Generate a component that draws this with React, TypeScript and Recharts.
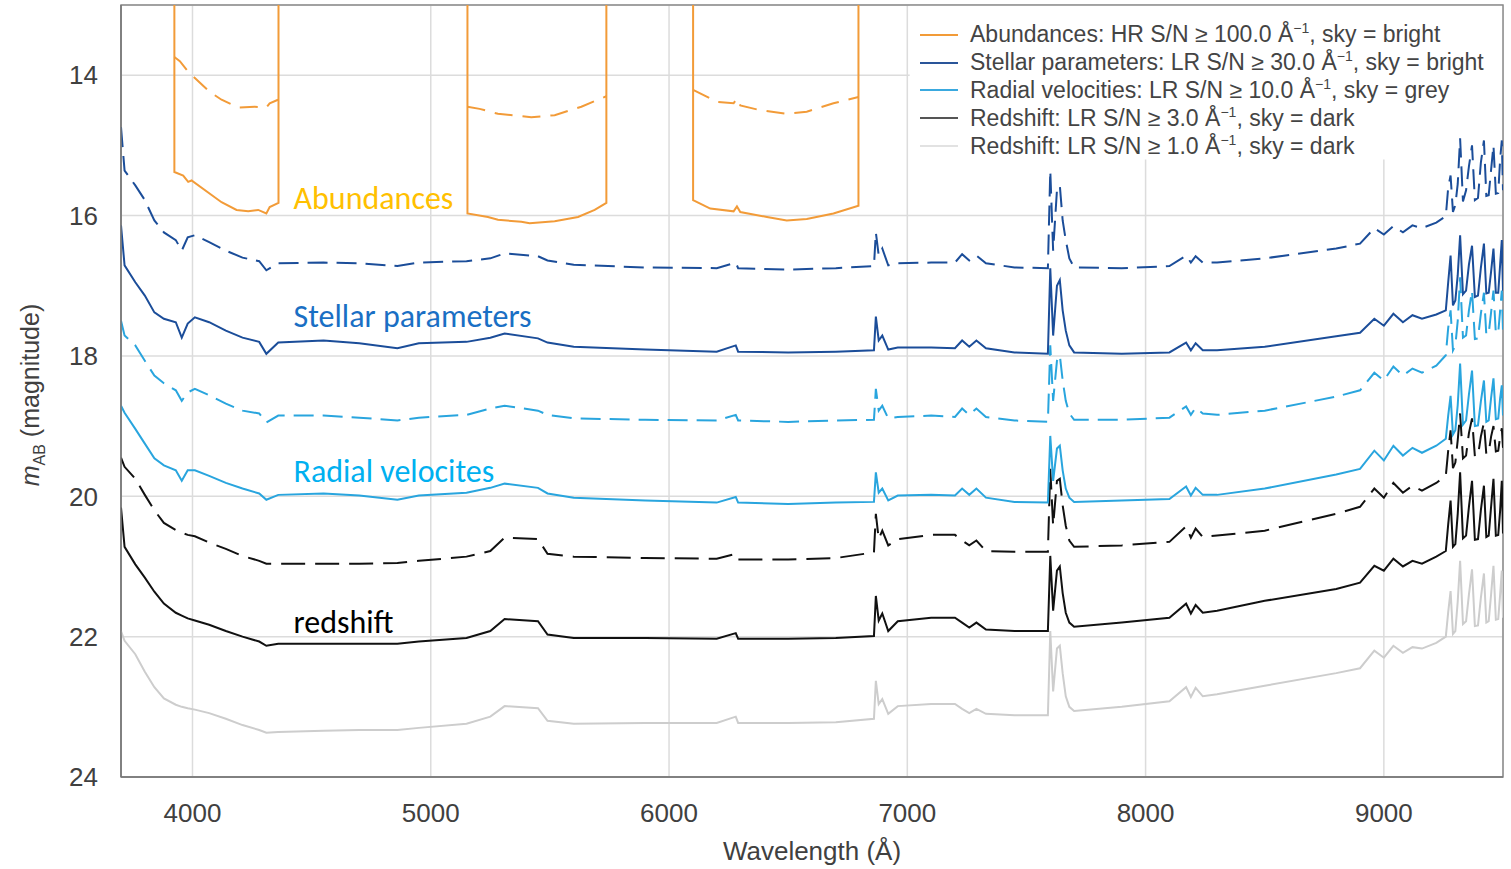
import {
  CartesianGrid,
  Label,
  Legend,
  Line,
  LineChart,
  ReferenceArea,
  ReferenceDot,
  XAxis,
  YAxis,
} from "recharts";

const FONT = "'Liberation Sans', Arial, Helvetica, sans-serif";
const NOTE_FONT = "Carlito, 'Open Sans', sans-serif";

const X_TICKS = [4000, 5000, 6000, 7000, 8000, 9000];
const Y_TICKS = [14, 16, 18, 20, 22, 24];

// shared wavelength grid (Å) for the LR curves
const WAVE = [
  3700, 3715, 3760, 3800, 3840, 3880, 3930, 3955, 3980, 4010, 4070, 4140, 4210, 4280, 4310, 4360,
  4550, 4700, 4860, 4950, 5150, 5250, 5310, 5450, 5490, 5600, 5900, 6200, 6280, 6290, 6500, 6700,
  6860, 6868, 6880, 6895, 6920, 6960, 7100, 7200, 7230, 7260, 7290, 7330, 7450, 7590, 7600, 7612,
  7628, 7640, 7652, 7665, 7680, 7700, 7900, 8100, 8170, 8190, 8210, 8240, 8300, 8500, 8800, 8900,
  8960, 9000, 9040, 9080, 9120, 9160, 9220,
  9260, 9270, 9280, 9290, 9300, 9310, 9320, 9332, 9345, 9357, 9370, 9382, 9395, 9407, 9420, 9430,
  9440, 9450, 9460, 9470, 9480, 9488, 9495, 9500,
];

const STELLAR_DASHED = [
  14.74, 15.36, 15.57, 15.78, 16.07, 16.24, 16.35, 16.5, 16.31, 16.28, 16.38, 16.5, 16.6, 16.65, 16.78, 16.68,
  16.67, 16.68, 16.72, 16.67, 16.65, 16.61, 16.54, 16.58, 16.64, 16.7, 16.74, 16.75, 16.67, 16.75, 16.77, 16.75,
  16.72, 16.24, 16.57, 16.47, 16.71, 16.68, 16.67, 16.67, 16.55, 16.64, 16.57, 16.68, 16.74, 16.75, 15.36, 16.5,
  15.64, 15.57, 16.07, 16.35, 16.61, 16.74, 16.75, 16.72, 16.57, 16.67, 16.58, 16.67, 16.67, 16.61, 16.47, 16.4,
  16.18, 16.27, 16.15, 16.24, 16.14, 16.18, 16.1,
  16.01, 15.6, 15.43, 15.95, 15.85, 15.55, 14.9, 15.8, 15.64, 15.3, 15.0, 15.78, 15.75, 15.25, 14.93, 15.72,
  15.71, 15.35, 15.0, 15.69, 15.68, 15.2, 14.93, 15.64,
];
const STELLAR_SOLID = [
  16.14, 16.71, 16.95, 17.14, 17.38, 17.47, 17.52, 17.74, 17.54, 17.45, 17.52, 17.64, 17.74, 17.8, 17.97, 17.81,
  17.78, 17.82, 17.89, 17.82, 17.8, 17.74, 17.68, 17.75, 17.81, 17.87, 17.91, 17.94, 17.85, 17.94, 17.95, 17.94,
  17.92, 17.44, 17.78, 17.71, 17.91, 17.88, 17.88, 17.89, 17.78, 17.87, 17.78, 17.89, 17.95, 17.97, 16.75, 17.71,
  17.0, 16.92, 17.35, 17.64, 17.85, 17.95, 17.97, 17.95, 17.81, 17.92, 17.82, 17.92, 17.92, 17.87, 17.72, 17.67,
  17.47, 17.57, 17.4, 17.52, 17.42, 17.47, 17.41,
  17.35, 16.95, 16.57, 17.28, 17.21, 16.85, 16.28, 17.12, 17.07, 16.7, 16.43, 17.16, 17.14, 16.75, 16.4, 17.11,
  17.1, 16.8, 16.47, 17.1, 17.1, 16.7, 16.35, 17.07,
];
const RADIAL_DASHED = [
  17.5, 17.71, 17.85, 18.07, 18.28, 18.39, 18.49, 18.64, 18.52, 18.47, 18.56, 18.68, 18.78, 18.82, 18.95, 18.85,
  18.85, 18.88, 18.92, 18.88, 18.84, 18.75, 18.71, 18.78, 18.84, 18.89, 18.91, 18.92, 18.84, 18.92, 18.94, 18.92,
  18.91, 18.47, 18.78, 18.71, 18.89, 18.87, 18.85, 18.87, 18.75, 18.84, 18.75, 18.87, 18.92, 18.94, 17.85, 18.64,
  18.07, 17.99, 18.35, 18.64, 18.82, 18.91, 18.91, 18.88, 18.72, 18.84, 18.74, 18.82, 18.84, 18.78, 18.58, 18.49,
  18.24, 18.35, 18.15, 18.28, 18.18, 18.24, 18.14,
  17.99, 17.6, 17.35, 17.92, 17.85, 17.5, 16.88, 17.74, 17.71, 17.35, 17.07, 17.76, 17.75, 17.4, 17.1, 17.7,
  17.68, 17.38, 17.07, 17.68, 17.67, 17.35, 17.07, 17.64,
];
const RADIAL_SOLID = [
  18.71, 18.81, 19.04, 19.25, 19.46, 19.56, 19.63, 19.78, 19.63, 19.63, 19.71, 19.81, 19.89, 19.96, 20.05, 19.98,
  19.96, 19.99, 20.05, 19.99, 19.95, 19.88, 19.82, 19.88, 19.96, 20.02, 20.06, 20.09, 20.01, 20.09, 20.11, 20.09,
  20.08, 19.66, 19.95, 19.89, 20.06, 19.99, 19.98, 19.99, 19.89, 19.98, 19.89, 20.02, 20.08, 20.09, 19.14, 19.78,
  19.32, 19.28, 19.63, 19.89, 20.02, 20.08, 20.06, 20.04, 19.86, 19.99, 19.88, 19.98, 19.98, 19.89, 19.69, 19.61,
  19.35, 19.49, 19.28, 19.42, 19.31, 19.38, 19.28,
  19.18, 18.85, 18.57, 19.12, 19.06, 18.7, 18.11, 18.98, 18.92, 18.55, 18.21, 19.0, 18.99, 18.65, 18.35, 18.94,
  18.92, 18.6, 18.32, 18.9, 18.89, 18.6, 18.42, 18.85,
];
const REDSHIFT3_DASHED = [
  19.45, 19.58, 19.75, 19.98, 20.2, 20.38, 20.48, 20.52, 20.55, 20.57, 20.66, 20.75, 20.85, 20.92, 20.96, 20.96,
  20.96, 20.96, 20.95, 20.92, 20.86, 20.78, 20.59, 20.61, 20.82, 20.86, 20.88, 20.89, 20.82, 20.9, 20.9, 20.88,
  20.8, 20.25, 20.61, 20.49, 20.7, 20.61, 20.55, 20.55, 20.63, 20.7, 20.63, 20.78, 20.79, 20.79, 19.61, 20.42,
  19.78, 19.75, 20.13, 20.42, 20.63, 20.72, 20.7, 20.65, 20.43, 20.59, 20.46, 20.58, 20.56, 20.49, 20.25, 20.15,
  19.89, 20.02, 19.81, 19.95, 19.85, 19.92, 19.81,
  19.71, 19.35, 19.06, 19.6, 19.52, 19.2, 18.82, 19.46, 19.42, 19.1, 18.89, 19.43, 19.42, 19.15, 18.95, 19.4,
  19.38, 19.15, 19.0, 19.36, 19.35, 19.15, 19.03, 19.31,
];
const REDSHIFT3_SOLID = [
  20.16, 20.72, 20.97, 21.16, 21.36, 21.53, 21.66, 21.7, 21.74, 21.77, 21.83, 21.92, 22.0, 22.07, 22.13, 22.1,
  22.1, 22.1, 22.1, 22.07, 22.02, 21.92, 21.75, 21.78, 21.97, 22.02, 22.02, 22.03, 21.95, 22.03, 22.03, 22.02,
  21.99, 21.42, 21.77, 21.67, 21.92, 21.78, 21.73, 21.73, 21.8, 21.87, 21.8, 21.9, 21.92, 21.92, 20.85, 21.63,
  21.06, 21.0, 21.38, 21.66, 21.8, 21.86, 21.8, 21.73, 21.53, 21.67, 21.55, 21.66, 21.63, 21.49, 21.32, 21.23,
  20.99, 21.06, 20.89, 21.0, 20.92, 20.96, 20.86,
  20.78, 20.4, 20.06, 20.72, 20.68, 20.25, 19.66, 20.6, 20.56, 20.15, 19.78, 20.62, 20.61, 20.2, 19.85, 20.58,
  20.56, 20.15, 19.75, 20.56, 20.55, 20.2, 19.78, 20.53,
];
const REDSHIFT1_SOLID = [
  21.92, 22.06, 22.25, 22.5, 22.72, 22.88, 22.97, 23.0, 23.02, 23.04, 23.09, 23.17, 23.26, 23.33, 23.37, 23.36,
  23.34, 23.33, 23.33, 23.3, 23.24, 23.14, 22.99, 23.02, 23.2, 23.24, 23.23, 23.23, 23.14, 23.23, 23.23, 23.22,
  23.17, 22.63, 22.96, 22.89, 23.1, 22.99, 22.96, 22.96, 23.03, 23.09, 23.03, 23.1, 23.12, 23.12, 21.92, 22.78,
  22.17, 22.13, 22.52, 22.85, 23.0, 23.06, 23.0, 22.92, 22.72, 22.86, 22.73, 22.85, 22.82, 22.7, 22.52, 22.45,
  22.2, 22.3, 22.13, 22.23, 22.15, 22.17, 22.09,
  22.0, 21.65, 21.35, 21.96, 21.92, 21.5, 20.92, 21.82, 21.78, 21.4, 21.04, 21.85, 21.84, 21.45, 21.1, 21.8,
  21.78, 21.4, 20.99, 21.76, 21.75, 21.4, 21.06, 21.73,
];

// HR windows (abundances); 12 = off the top of the plot, null = gap between windows
const ABUND_SOLID_WAVE = [
  3924, 3924, 3961, 3982, 3996, 4122, 4185, 4234, 4276, 4310, 4324, 4361, 4361, 4800,
  5154, 5154, 5240, 5282, 5380, 5415, 5520, 5618, 5688, 5737, 5737, 5900,
  6101, 6101, 6173, 6271, 6285, 6299, 6411, 6494, 6578, 6690, 6795, 6795,
];
const ABUND_SOLID_MAG = [
  12, 15.38, 15.43, 15.52, 15.5, 15.81, 15.92, 15.94, 15.92, 15.97, 15.88, 15.82, 12, null,
  12, 15.97, 16.02, 16.06, 16.09, 16.11, 16.08, 16.02, 15.92, 15.82, 12, null,
  12, 15.78, 15.9, 15.94, 15.87, 15.95, 16.02, 16.07, 16.05, 15.97, 15.86, 12,
];
const ABUND_DASHED_WAVE = [
  3924, 3947, 3982, 4073, 4122, 4192, 4261, 4310, 4324, 4359, 4800,
  5154, 5205, 5282, 5422, 5520, 5632, 5737, 5900,
  6101, 6201, 6271, 6285, 6299, 6383, 6494, 6578, 6690, 6795,
];
const ABUND_DASHED_MAG = [
  13.74, 13.8, 13.95, 14.24, 14.35, 14.46, 14.45, 14.46, 14.4, 14.35, null,
  14.45, 14.48, 14.55, 14.6, 14.57, 14.45, 14.3, null,
  14.21, 14.38, 14.4, 14.33, 14.43, 14.5, 14.55, 14.52, 14.4, 14.31,
];

const LEGEND_TEXT = [
  ["Abundances: HR S/N ≥ 100.0 Å", ", sky = bright"],
  ["Stellar parameters: LR S/N ≥ 30.0 Å", ", sky = bright"],
  ["Radial velocities: LR S/N ≥ 10.0 Å", ", sky = grey"],
  ["Redshift: LR S/N ≥ 3.0 Å", ", sky = dark"],
  ["Redshift: LR S/N ≥ 1.0 Å", ", sky = dark"],
];
const LEGEND_COLORS = ["#f29b38", "#2a5599", "#3aa9df", "#555555", "#e2e2e2"];
// area behind the legend where the grid is hidden
const LEGEND_WAVE = [7010, 9500];
const LEGEND_MAG = [13, 15.2];

const NOTE_TEXT = ["Abundances", "Stellar parameters", "Radial velocites", "redshift"];
const NOTE_MAG = [15.74, 17.42, 19.63, 21.79];
const NOTE_WAVE = 4403;
const NOTE_COLORS = ["#ffc000", "#1a6fc4", "#00b0f0", "#000000"];

const ORANGE = "#f29b38";
const DARK_BLUE = "#1b4d99";
const LIGHT_BLUE = "#29a5de";
const BLACK = "#111111";
const GREY = "#cdcdcd";

const rows = WAVE.map((w, i) => ({
  w,
  sd: STELLAR_DASHED[i],
  ss: STELLAR_SOLID[i],
  rd: RADIAL_DASHED[i],
  rs: RADIAL_SOLID[i],
  bd: REDSHIFT3_DASHED[i],
  bs: REDSHIFT3_SOLID[i],
  g: REDSHIFT1_SOLID[i],
}));
const abundSolid = ABUND_SOLID_WAVE.map((w, i) => ({ w, m: ABUND_SOLID_MAG[i] }));
const abundDashed = ABUND_DASHED_WAVE.map((w, i) => ({ w, m: ABUND_DASHED_MAG[i] }));

// drawn bottom to top
const SERIES = [
  { key: "g", color: GREY, dash: undefined },
  { key: "bs", color: BLACK, dash: undefined },
  { key: "bd", color: BLACK, dash: "24 10" },
  { key: "rs", color: LIGHT_BLUE, dash: undefined },
  { key: "rd", color: LIGHT_BLUE, dash: "20 9" },
  { key: "ss", color: DARK_BLUE, dash: undefined },
  { key: "sd", color: DARK_BLUE, dash: "20 9" },
];

function LegendBox() {
  return (
    <div style={{ padding: "6px 10px 0 12px", fontFamily: FONT, fontSize: 23, color: "#444" }}>
      {LEGEND_TEXT.map((t, i) => (
        <div key={i} style={{ display: "flex", alignItems: "center", whiteSpace: "nowrap", height: 27.8 }}>
          <span style={{ display: "inline-block", width: 38, height: 2, background: LEGEND_COLORS[i], marginRight: 12 }} />
          <span>
            {t[0]}
            <span style={{ fontSize: 14, position: "relative", top: -9 }}>−1</span>
            {t[1]}
          </span>
        </div>
      ))}
    </div>
  );
}

function XTitle(props: any) {
  const vb = props.viewBox || { x: 121, y: 777, width: 1382 };
  return (
    <text x={vb.x + vb.width / 2} y={vb.y + 83} textAnchor="middle" fontSize={26} fill="#404040" fontFamily={FONT}>
      Wavelength (Å)
    </text>
  );
}

function YTitle(props: any) {
  const vb = props.viewBox || { x: 0, y: 5, height: 772 };
  const cx = 39;
  const cy = vb.y + vb.height / 2 + 4;
  return (
    <text x={cx} y={cy} transform={`rotate(-90 ${cx} ${cy})`} textAnchor="middle" fontSize={25} fill="#404040" fontFamily={FONT}>
      <tspan fontStyle="italic">m</tspan>
      <tspan fontSize={16} dy={6}>AB</tspan>
      <tspan dy={-6}> (magnitude)</tspan>
    </text>
  );
}

export default function App() {
  return (
    <div style={{ position: "absolute", left: 0, top: 0, width: 1511, height: 869, background: "#fff", fontFamily: FONT }}>
      <LineChart width={1511} height={869} data={rows} margin={{ top: 5, right: 8, bottom: 0, left: 0 }}>
        <CartesianGrid stroke="#dcdcdc" strokeWidth={1.5} />
        <XAxis
          type="number"
          dataKey="w"
          domain={[3700, 9500]}
          ticks={X_TICKS}
          allowDataOverflow
          height={92}
          tickLine={false}
          tickSize={6}
          tickMargin={21}
          axisLine={{ stroke: "#777", strokeWidth: 1.5 }}
          tick={{ fontSize: 26, fill: "#404040", fontFamily: FONT }}
        >
          <Label content={XTitle} />
        </XAxis>
        <YAxis
          type="number"
          domain={[13, 24]}
          reversed
          ticks={Y_TICKS}
          allowDataOverflow
          width={121}
          tickLine={false}
          tickSize={6}
          tickMargin={17}
          axisLine={{ stroke: "#777", strokeWidth: 1.5 }}
          tick={{ fontSize: 26, fill: "#404040", fontFamily: FONT }}
        >
          <Label content={YTitle} />
        </YAxis>
        <ReferenceArea
          x1={LEGEND_WAVE[0]}
          x2={LEGEND_WAVE[1]}
          y1={LEGEND_MAG[0]}
          y2={LEGEND_MAG[1]}
          fill="#ffffff"
          fillOpacity={1}
          stroke="none"
        />
        <ReferenceArea x1={3700} x2={9500} y1={13} y2={24} fill="none" stroke="#8a8a8a" strokeWidth={1.5} ifOverflow="visible" />
        {SERIES.map((s) => (
          <Line
            key={s.key}
            type="linear"
            dataKey={s.key}
            stroke={s.color}
            strokeWidth={2}
            strokeDasharray={s.dash}
            dot={false}
            activeDot={false}
            isAnimationActive={false}
          />
        ))}
        <Line data={abundSolid} type="linear" dataKey="m" stroke={ORANGE} strokeWidth={2} dot={false} activeDot={false} isAnimationActive={false} />
        <Line data={abundDashed} type="linear" dataKey="m" stroke={ORANGE} strokeWidth={2} strokeDasharray="18 10" dot={false} activeDot={false} isAnimationActive={false} />
        {NOTE_TEXT.map((t, i) => (
          <ReferenceDot
            key={t}
            x={NOTE_WAVE}
            y={NOTE_MAG[i]}
            r={0}
            stroke="none"
            label={{ value: t, position: "right", offset: 5, fill: NOTE_COLORS[i], fontSize: 32, fontFamily: NOTE_FONT }}
          />
        ))}
        <Legend
          layout="vertical"
          align="center"
          verticalAlign="middle"
          content={() => <LegendBox />}
          wrapperStyle={{ top: 15, left: 908, width: "auto" }}
        />
      </LineChart>
    </div>
  );
}
